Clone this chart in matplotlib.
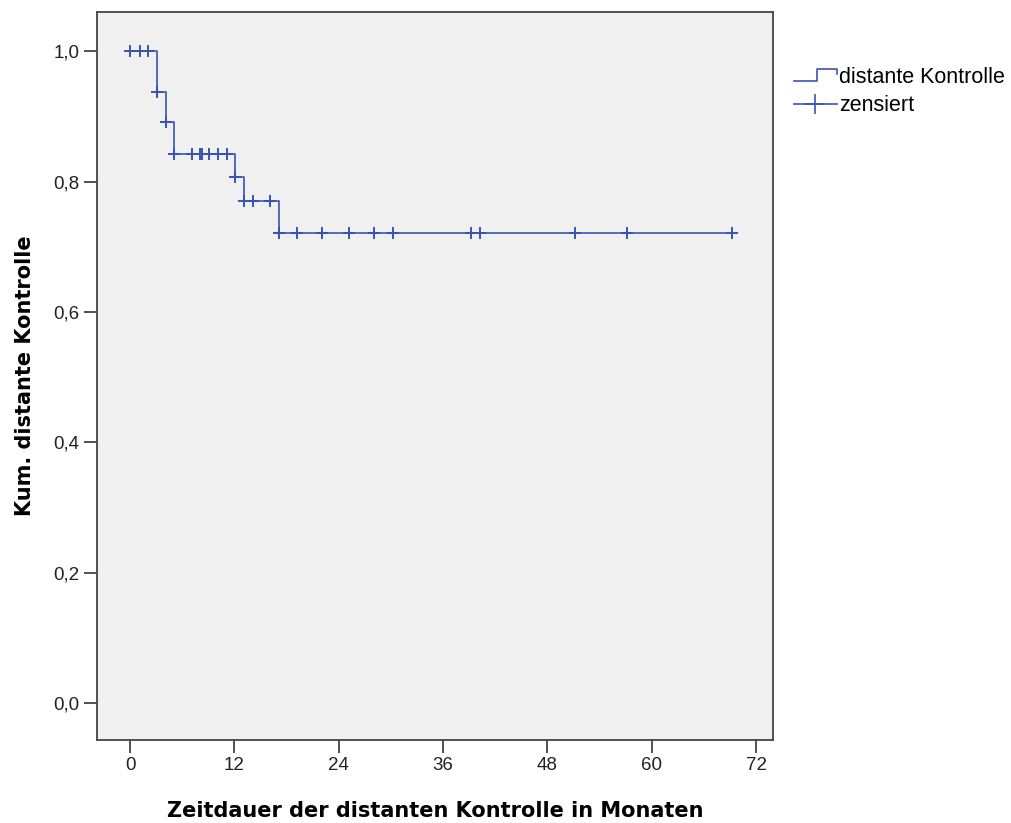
import matplotlib
matplotlib.use("Agg")
import matplotlib.pyplot as plt
import numpy as np
from matplotlib.lines import Line2D
from matplotlib.legend_handler import HandlerBase

# Kaplan-Meier Werte
event_times = [3.1, 4.1, 5.1, 12.1, 13.1, 17.1]
surv_levels = [1.0, 0.938, 0.891, 0.842, 0.807, 0.770, 0.722]
censor_times = [0.0, 1.1, 2.1, 3.1, 4.1, 5.1, 7.1, 8.1, 8.3, 9.1, 10.1, 11.1,
                12.1, 13.1, 14.1, 16.1, 17.1, 19.2, 22.1, 25.2, 28.1, 30.2,
                39.2, 40.2, 51.2, 57.2, 69.2]
end_time = 69.2
x_ticks = [0, 12, 24, 36, 48, 60, 72]
y_ticks = [0.0, 0.2, 0.4, 0.6, 0.8, 1.0]

line_color = '#3953b3'
plt.rcParams['font.family'] = ['Liberation Sans', 'DejaVu Sans']


class StepHandler(HandlerBase):
    def create_artists(self, legend, orig_handle, xdescent, ydescent,
                       width, height, fontsize, trans):
        x0, x1 = -xdescent, -xdescent + width
        y0 = -ydescent + height * 0.1
        y1 = -ydescent + height * 0.9
        xm = x0 + width * 0.55
        ln = Line2D([x0, xm, xm, x1, x1], [y0, y0, y1, y1, y1 - height * 0.35],
                    color=line_color, lw=1.2, transform=trans)
        return [ln]


fig = plt.figure(figsize=(10.11, 8.23), dpi=100)
ax = fig.add_axes([97 / 1011, 83 / 823, 676 / 1011, 728 / 823])
ax.set_facecolor('#f0f0f0')

# step curve
xs = [0.0] + event_times + [end_time]
ys = surv_levels + [surv_levels[-1]]
ax.step(xs, ys, where='post', color=line_color, lw=1.2)

# censor marks
idx = np.searchsorted(event_times, censor_times, side='right')
cy = [surv_levels[i] for i in idx]
ax.plot(censor_times, cy, linestyle='none', marker='+', markersize=8.5,
        mew=1.4, color=line_color)

ax.set_xlim(-3.8, 73.95)
ax.set_ylim(-0.0565, 1.0605)
ax.set_xticks(x_ticks)
ax.set_yticks(y_ticks)
ax.set_yticklabels([f"{v:.1f}".replace('.', ',') for v in y_ticks])
ax.tick_params(axis='both', direction='out', length=9.5, width=1.2,
               color='#333333', labelsize=13.5, labelcolor='#222222', pad=3)
for s in ax.spines.values():
    s.set_color('#444444')
    s.set_linewidth(1.3)

ax.set_xlabel('Zeitdauer der distanten Kontrolle in Monaten', fontsize=15,
              fontweight='bold', family=['DejaVu Sans'], labelpad=19)
ax.set_ylabel('Kum. distante Kontrolle', fontsize=15, fontweight='bold',
              family=['DejaVu Sans'], labelpad=13)

h_step = Line2D([], [], color=line_color)
h_cens = Line2D([], [], color=line_color, lw=1.2, marker='+', markersize=14, mew=1.2)
fig.legend([h_step, h_cens], ['distante Kontrolle', 'zensiert'],
           handler_map={h_step: StepHandler()},
           loc='upper left', bbox_to_anchor=(785 / 1011, 1 - 58 / 823),
           frameon=False, fontsize=15.5, handlelength=2.0, handletextpad=0.1,
           labelspacing=0.35, borderaxespad=0)

fig.savefig('out.png', dpi=100)
